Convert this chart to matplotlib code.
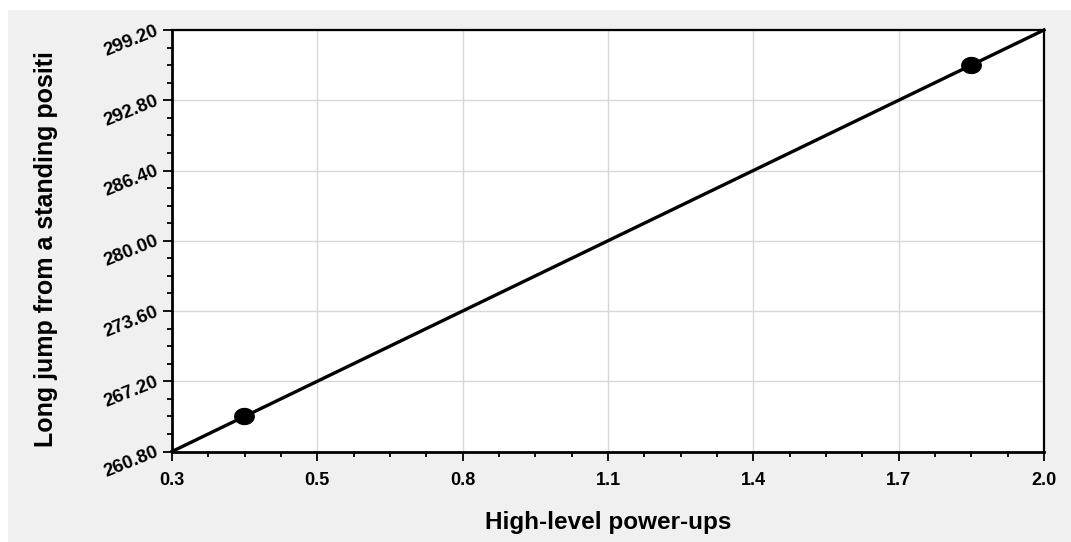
import numpy as np
import matplotlib
matplotlib.use("Agg")
import matplotlib.pyplot as plt
from matplotlib.patches import Rectangle
from matplotlib.path import Path
from matplotlib.ticker import AutoMinorLocator

# data
point_x = [0.44, 1.858]
point_y = [264.0, 296.0]
fit_x = [0.3, 2.0]
fit_y = [260.8, 299.2]

x_ticks = np.linspace(0.3, 2.0, 7)
x_tick_labels = ["0.3", "0.5", "0.8", "1.1", "1.4", "1.7", "2.0"]
y_ticks = np.linspace(260.8, 299.2, 7)
y_tick_labels = ["%.2f" % v for v in y_ticks]

x_title = "High-level power-ups"
y_title = "Long jump from a standing positi"

plt.rcParams["font.family"] = ["Liberation Sans", "DejaVu Sans"]

W, H = 1071, 542
fig = plt.figure(figsize=(W / 100, H / 100), dpi=100)
fig.patch.set_facecolor("white")
fig.patches.append(Rectangle((8 / W, 0), 1 - 8 / W, (H - 10) / H,
                             transform=fig.transFigure, facecolor="#f0f0f0",
                             edgecolor="none", zorder=-5))

left, top, right, bottom = 172, 30, 1044, 451.5
ax = fig.add_axes([left / W, (H - bottom) / H, (right - left) / W, (bottom - top) / H])
ax.set_facecolor("white")

# slightly flattened round marker
t = np.linspace(0, 2 * np.pi, 40)
ell = Path(np.column_stack([np.cos(t), 0.82 * np.sin(t)]), closed=True)

ax.plot(fit_x, fit_y, color="black", lw=2.4, zorder=3, clip_on=False)
ax.plot(point_x, point_y, linestyle="none", marker=ell, markersize=14,
        color="black", zorder=4)

ax.set_xlim(0.3, 2.0)
ax.set_ylim(260.8, 299.2)
ax.set_xticks(x_ticks)
ax.set_xticklabels(x_tick_labels, fontsize=13, fontweight="bold")
ax.set_yticks(y_ticks)
ax.set_yticklabels(y_tick_labels, fontsize=13.5, fontweight="bold",
                   rotation=22, rotation_mode="anchor", ha="right", va="center")
ax.xaxis.set_minor_locator(AutoMinorLocator(4))
ax.yaxis.set_minor_locator(AutoMinorLocator(4))
ax.tick_params(which="major", direction="out", length=6.5, width=1.3, color="black")
ax.tick_params(which="minor", direction="out", length=3.8, width=1.3, color="black")
ax.tick_params(axis="x", which="major", pad=8)
ax.tick_params(axis="y", which="major", pad=4)

ax.grid(True, which="major", color="#d8d8d8", lw=1)
ax.set_axisbelow(True)
for s in ax.spines.values():
    s.set_color("black")
    s.set_linewidth(1.6)
ax.spines["left"].set_linewidth(2)
ax.spines["bottom"].set_linewidth(2)

fig.text(608 / W, (H - 522) / H, x_title, fontsize=17.5, fontweight="bold",
         ha="center", va="center")
fig.text(46 / W, (H - 447) / H, y_title, fontsize=18, fontweight="bold",
         rotation=90, ha="center", va="bottom")

fig.savefig("out.png", dpi=100)
